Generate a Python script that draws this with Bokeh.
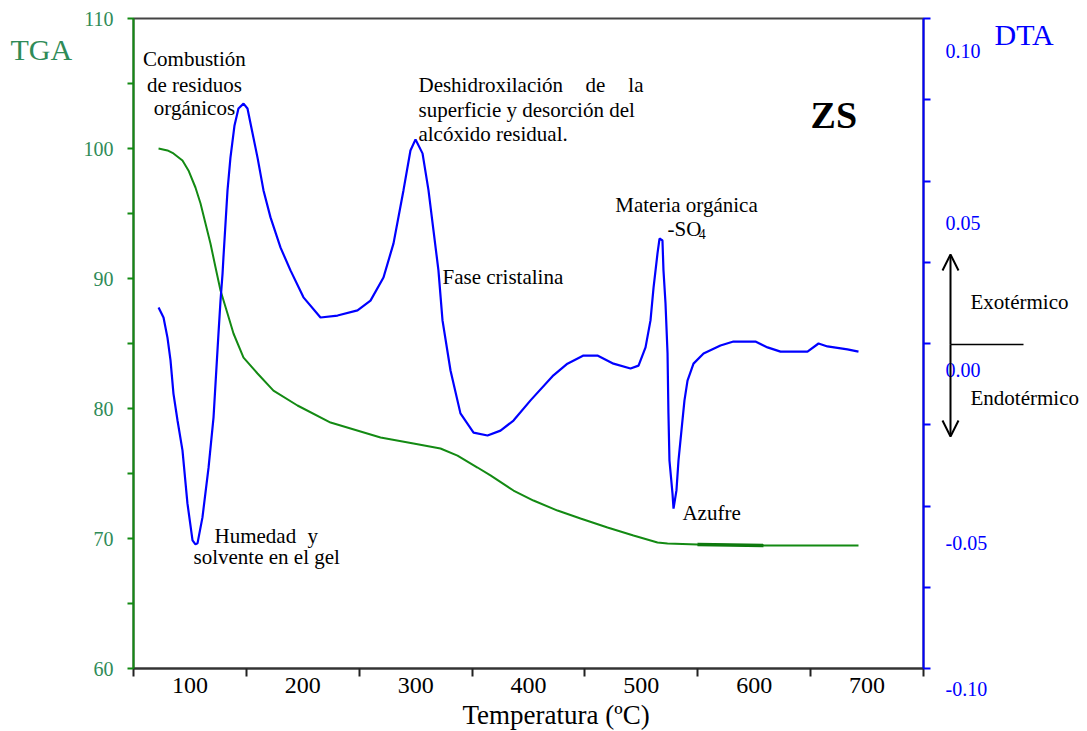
from bokeh.plotting import figure
from bokeh.layouts import row
from bokeh.models import Range1d, LinearAxis, FixedTicker, Label, Arrow, OpenHead, Title
from bokeh.embed import file_html
from bokeh.resources import INLINE

# ---- data ----
temp_dta = [72.2, 76.6, 80.1, 82.8, 85.4, 89.0, 93.4, 97.8, 102.3, 104.9, 106.7, 111.1, 116.5, 120.9,
            125.3, 127.1, 128.9, 129.7, 133.3, 135.9, 139.5, 143.0, 147.5, 151.0, 153.7, 159.9, 165.2,
            171.4, 180.3, 189.1, 200.6, 215.7, 230.8, 248.5, 260.0, 271.5, 280.4, 289.2, 295.4, 299.9,
            306.1, 311.4, 315.8, 320.2, 323.8, 330.9, 339.7, 351.3, 363.7, 375.2, 386.7, 401.8, 422.1,
            434.5, 448.7, 461.1, 475.3, 490.4, 497.5, 503.7, 508.1, 510.8, 514.3, 516.1, 518.7, 519.6,
            521.4, 523.2, 524.0, 524.9, 527.6, 528.5, 531.1, 532.9, 536.4, 538.2, 540.9, 546.2, 555.1,
            570.1, 581.6, 601.1, 611.8, 623.3, 647.2, 657.0, 664.9, 682.6, 692.4]
dta = [0.0111, 0.0080, 0.0018, -0.0052, -0.0154, -0.0237, -0.0329, -0.0492, -0.0606, -0.0618, -0.0615,
       -0.0535, -0.0382, -0.0228, 0.0031, 0.0132, 0.0215, 0.0265, 0.0471, 0.0572, 0.0671, 0.0723, 0.0738,
       0.0723, 0.0677, 0.0572, 0.0471, 0.0388, 0.0295, 0.0225, 0.0142, 0.0080, 0.0086, 0.0102, 0.0132,
       0.0203, 0.0308, 0.0471, 0.0594, 0.0628, 0.0585, 0.0471, 0.0348, 0.0225, 0.0071, -0.0083, -0.0215,
       -0.0274, -0.0283, -0.0268, -0.0237, -0.0175, -0.0098, -0.0062, -0.0037, -0.0037, -0.0062, -0.0077,
       -0.0068, -0.0012, 0.0071, 0.0172, 0.0277, 0.0323, 0.0317, 0.0225, 0.0123, -0.0031, -0.0215,
       -0.0360, -0.0462, -0.0508, -0.0452, -0.0360, -0.0237, -0.0175, -0.0114, -0.0062, -0.0031, -0.0006,
       0.0006, 0.0006, -0.0012, -0.0025, -0.0025, 0.0000, -0.0009, -0.0018, -0.0025]

temp_tga = [72.2, 80.1, 85.4, 93.4, 98.7, 104.9, 109.4, 113.8, 118.2, 122.7, 127.1, 133.3, 138.6, 147.5,
            159.9, 174.0, 195.3, 224.6, 268.9, 298.1, 322.0, 337.1, 354.8, 366.3, 386.7, 404.4, 425.7,
            446.1, 470.0, 493.0, 514.3, 523.2, 549.7, 608.2, 692.4]
tga = [100.0, 99.85, 99.62, 99.08, 98.31, 97.0, 95.77, 94.23, 92.69, 90.85, 89.08, 87.31, 85.77, 83.92,
       82.69, 81.38, 80.23, 78.92, 77.77, 77.31, 76.92, 76.38, 75.46, 74.85, 73.69, 72.92, 72.15, 71.54,
       70.85, 70.23, 69.69, 69.62, 69.54, 69.46, 69.46]
# short stretch of the TGA trace that is drawn heavier in the original
temp_tga_heavy = [549.7, 608.2]
tga_heavy = [69.54, 69.46]

x_labels = [100, 200, 300, 400, 500, 600, 700]
x_minor = [50, 150, 250, 350, 450, 550, 650, 750]
tga_ticks = [60, 70, 80, 90, 100, 110]
tga_minor = [65, 75, 85, 95, 105]
dta_minor = [-0.1, -0.075, -0.05, -0.025, 0.0, 0.025, 0.05, 0.075, 0.1]
dta_labels = ["0.10", "0.05", "0.00", "-0.05", "-0.10"]

SERIF = "Liberation Serif"
GREEN_TXT = "#2e8b57"
GREEN_LINE = "#138a13"
BLUE = "#0000ff"


def bare_panel(w, x0):
    f = figure(width=w, height=731, output_backend="svg", toolbar_location=None, title=None,
               x_range=Range1d(x0, x0 + w), y_range=Range1d(731, 0),
               x_axis_type=None, y_axis_type=None, frame_align=False,
               min_border=0, min_border_left=0, min_border_right=0,
               min_border_top=0, min_border_bottom=0)
    f.xgrid.visible = False
    f.ygrid.visible = False
    f.outline_line_color = None
    f.background_fill_color = "white"
    f.border_fill_color = "white"
    return f


def lab(fig, x, y, text, size="21px", color="black", align="left", style="normal"):
    fig.add_layout(Label(x=x, y=y, text=text, text_font=SERIF, text_font_size=size,
                         text_color=color, text_align=align, text_baseline="alphabetic",
                         text_font_style=style))


# ---------- left panel: TGA title ----------
left = bare_panel(76, 0)
lab(left, 10, 49, "TGA", size="30px", color=GREEN_TXT)

# ---------- main plot ----------
p = figure(width=864, height=731, output_backend="svg", toolbar_location=None, title=None,
           x_range=Range1d(50, 750), y_range=Range1d(60, 110), frame_align=False,
           min_border_left=57, min_border_right=17, min_border_top=18, min_border_bottom=63)
p.extra_y_ranges = {"dta": Range1d(-0.1, 0.1)}
p.xgrid.visible = False
p.ygrid.visible = False
p.background_fill_color = "white"
p.border_fill_color = "white"
p.outline_line_color = "#444444"
p.outline_line_width = 2

xa = p.xaxis[0]
xa.ticker = FixedTicker(ticks=x_labels, minor_ticks=x_minor)
xa.major_tick_out = 0
xa.major_tick_in = 0
xa.minor_tick_out = 8
xa.minor_tick_in = 0
xa.minor_tick_line_color = "#222222"
xa.minor_tick_line_width = 2
xa.axis_line_color = "#333333"
xa.axis_line_width = 2
xa.major_label_text_font = SERIF
xa.major_label_text_font_size = "24px"
xa.major_label_text_color = "black"
xa.major_label_standoff = 1

p.add_layout(Title(text="Temperatura (ºC)", align="left", offset=329, standoff=4,
                   text_font=SERIF, text_font_size="27px", text_font_style="normal",
                   text_color="black"), "below")

ya = p.yaxis[0]
ya.ticker = FixedTicker(ticks=tga_ticks, minor_ticks=tga_minor)
ya.major_tick_out = 6
ya.major_tick_in = 0
ya.minor_tick_out = 6
ya.minor_tick_in = 0
ya.major_tick_line_color = GREEN_LINE
ya.minor_tick_line_color = GREEN_LINE
ya.major_tick_line_width = 2
ya.minor_tick_line_width = 2
ya.axis_line_color = GREEN_LINE
ya.axis_line_width = 2
ya.major_label_text_font = SERIF
ya.major_label_text_font_size = "20px"
ya.major_label_text_color = GREEN_TXT
ya.major_label_standoff = 14

ra = LinearAxis(y_range_name="dta", ticker=FixedTicker(ticks=[], minor_ticks=dta_minor))
ra.minor_tick_out = 7
ra.minor_tick_in = 0
ra.minor_tick_line_color = BLUE
ra.minor_tick_line_width = 2
ra.axis_line_color = BLUE
ra.axis_line_width = 2
p.add_layout(ra, "right")

p.line(temp_tga, tga, line_color=GREEN_LINE, line_width=2)
p.line(temp_tga_heavy, tga_heavy, line_color="#0e7a0e", line_width=3.5)
p.line(temp_dta, dta, y_range_name="dta", line_color=BLUE, line_width=2.2)

lab(p, 104.0, 106.85, "Combustión", align="center")
lab(p, 104.0, 104.92, "de residuos", align="center")
lab(p, 104.0, 103.08, "orgánicos", align="center")
lab(p, 302.5, 104.92, "Deshidroxilación")
lab(p, 450.5, 104.92, "de")
lab(p, 501.9, 104.92, "la", align="right")
lab(p, 302.5, 103.0, "superficie y desorción del")
lab(p, 302.5, 101.08, "alcóxido residual.")
lab(p, 323.8, 90.08, "Fase cristalina")
lab(p, 540.0, 95.62, "Materia orgánica", align="center")
lab(p, 523.2, 93.77, "-SO")
lab(p, 550.8, 93.46, "4", size="14px")
lab(p, 536.4, 72.0, "Azufre")
lab(p, 121.8, 70.23, "Humedad")
lab(p, 204.2, 70.23, "y")
lab(p, 103.2, 68.54, "solvente en el gel")
lab(p, 649.9, 102.54, "ZS", size="38px", style="bold")

# ---------- right panel: DTA title, tick values, exo/endo key ----------
right = bare_panel(147, 940)
lab(right, 994, 34, "DTA", size="30px", color=BLUE)
for yv, t in zip([50, 222, 369, 542, 688], dta_labels):
    lab(right, 945, yv, t, size="20px", color=BLUE)
lab(right, 970, 301, "Exotérmico")
lab(right, 970, 397, "Endotérmico")
right.add_layout(Arrow(x_start=950, y_start=344, x_end=950, y_end=254,
                       end=OpenHead(size=16, line_width=2, line_color="black"),
                       line_color="black", line_width=2))
right.add_layout(Arrow(x_start=950, y_start=344, x_end=950, y_end=436,
                       end=OpenHead(size=16, line_width=2, line_color="black"),
                       line_color="black", line_width=2))
right.add_layout(Arrow(x_start=950, y_start=344, x_end=1023, y_end=344, end=None,
                       line_color="black", line_width=1.5))

layout = row(left, p, right, spacing=0)
open("out.html", "w").write(file_html(layout, INLINE))
